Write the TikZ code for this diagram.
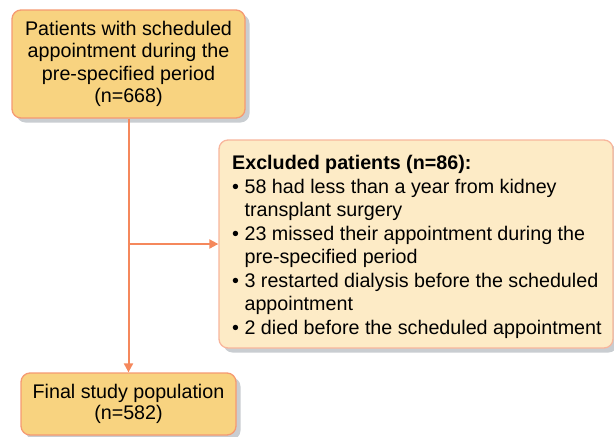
\documentclass[tikz,border=0pt]{standalone}
\usepackage{fontspec}
\setmainfont{Liberation Sans}
\usetikzlibrary{arrows.meta,shadows}
\definecolor{boxfill}{HTML}{F8D380}
\definecolor{boxline}{HTML}{F59A72}
\definecolor{exfill}{HTML}{FDEBC6}
\definecolor{exline}{HTML}{F8B69C}
\definecolor{conn}{HTML}{F5885C}
\definecolor{shade}{HTML}{C9CDD1}
\tikzset{
  mainbox/.style={draw=boxline, line width=1.3pt, fill=boxfill, rounded corners=9pt,
    inner sep=0pt, align=center,
    drop shadow={shadow xshift=4.5pt, shadow yshift=-4.5pt, fill=shade, opacity=1}},
  exbox/.style={draw=exline, line width=1.3pt, fill=exfill, rounded corners=9pt,
    inner sep=0pt,
    drop shadow={shadow xshift=4.5pt, shadow yshift=-4.5pt, fill=shade, opacity=1}},
  connector/.style={draw=conn, line width=2pt, -{Triangle[length=9pt,width=9pt]}}
}
\begin{document}
\begin{tikzpicture}[x=1pt,y=-1pt]
\useasboundingbox (0,0) rectangle (614,437);
\node[mainbox, minimum width=233pt, minimum height=108pt,
  font=\fontsize{19.7}{22.4}\selectfont] (top) at (128.5,64)
  {Patients with scheduled\\appointment during the\\pre-specified period\\(n=668)};
\node[exbox, minimum width=394pt, minimum height=208pt] (excl) at (416,244) {};
\node[anchor=west, align=left, inner sep=0pt,
  font=\fontsize{19.7}{23.55}\selectfont] (extext) at (232,247)
  {\textbf{Excluded patients (n=86):}\\
   • 58 had less than a year from kidney\\
   \phantom{• }transplant surgery\\
   • 23 missed their appointment during the\\
   \phantom{• }pre-specified period\\
   • 3 restarted dialysis before the scheduled\\
   \phantom{• }appointment\\
   • 2 died before the scheduled appointment};
\node[mainbox, minimum width=215pt, minimum height=62pt,
  font=\fontsize{19.7}{21.5}\selectfont] (final) at (128.5,404)
  {Final study population\\(n=582)};
\coordinate (branch) at (top.south |- excl.west);
\draw[connector] (top.south) -- (final.north);
\draw[connector] (branch) -- (excl.west);
\end{tikzpicture}
\end{document}
